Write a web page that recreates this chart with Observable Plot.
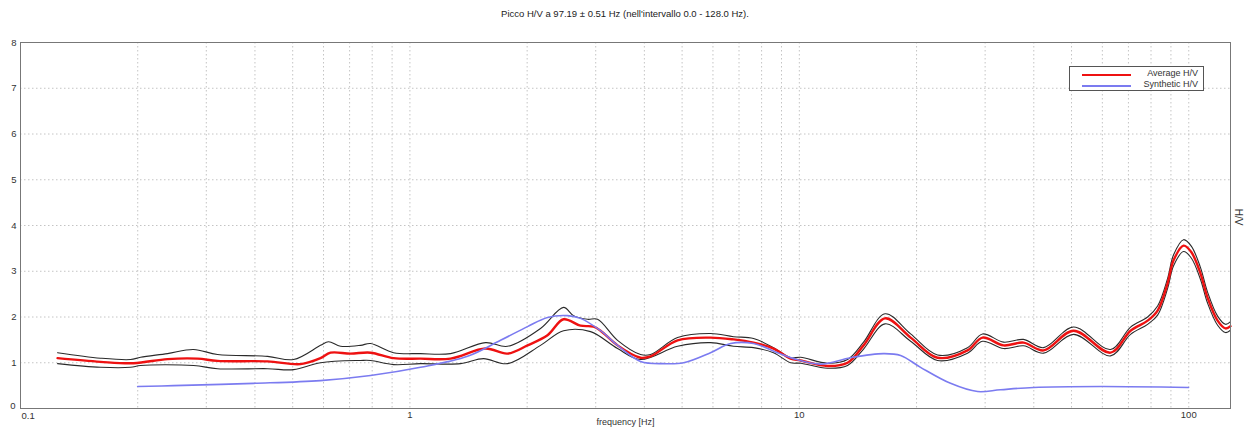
<!DOCTYPE html>
<html>
<head>
<meta charset="utf-8">
<script src="https://cdn.jsdelivr.net/npm/d3@7"></script>
<script src="https://cdn.jsdelivr.net/npm/@observablehq/plot@0.6"></script>
<style>
  html, body { margin: 0; padding: 0; background: #fff; }
  #wrap { position: relative; width: 1250px; height: 433px; font-family: "Liberation Sans", Arial, sans-serif; }
  #title { height: 30px; line-height: 28px; text-align: center; font-size: 9.5px; color: #222; }
  #legend { position: absolute; left: 1069px; top: 66px; width: 133px; height: 23px; border: 1px solid #555; background: #fff; font-size: 9px; color: #333; }
  .row { position: absolute; left: 0; right: 0; height: 11px; }
  .sw { position: absolute; left: 12px; width: 49px; }
  .lab { position: absolute; right: 5px; top: -2px; }
</style>
</head>
<body>
<div id="wrap">
  <div id="title"></div>
  <div id="chart"></div>
  <div id="legend"></div>
</div>
<script>
const titleText = "Picco H/V a 97.19 ± 0.51 Hz (nell'intervallo 0.0 - 128.0 Hz).";
const xLabel = "frequency [Hz]";
const yLabel = "H/V";
const seriesNames = ["Average H/V", "Synthetic H/V"];

const xTickValues = [0.1, 1, 10, 100];
const xTickLabels = ["0.1", "1", "10", "100"];
const yTickValues = [0, 1, 2, 3, 4, 5, 6, 7, 8];

// Average H/V (red)
const avgFreq = [0.1245,0.1605,0.1951,0.2385,0.2849,0.3206,0.4309,0.5237,0.5893,0.6253,0.7040,0.7922,0.9077,1.0647,1.2715,1.5636,1.7810,2.0045,2.2561,2.4806,2.7428,2.9620,3.0873,3.4135,3.9101,4.1486,4.8684,5.9156,6.7776,7.6283,8.5836,9.4933,10.07,11.81,13.30,14.62,16.6,19.31,22.64,27.03,29.54,33.45,37.65,42.38,50.60,62.99,70.89,78.41,83.18,88.22,91.42,96.97,101.5,107.2,111.7,118.6,124.3,128.0];
const avgHV   = [1.10,1.02,0.99,1.08,1.09,1.04,1.03,0.97,1.10,1.22,1.20,1.22,1.10,1.09,1.09,1.31,1.20,1.38,1.60,1.95,1.81,1.79,1.70,1.38,1.11,1.14,1.49,1.55,1.51,1.44,1.31,1.09,1.05,0.93,1.00,1.38,1.97,1.55,1.11,1.27,1.55,1.38,1.44,1.27,1.70,1.22,1.70,1.92,2.14,2.73,3.24,3.56,3.42,2.95,2.43,1.92,1.75,1.80];

// Upper bound (black)
const upFreq = [0.1245,0.1605,0.1916,0.2034,0.2385,0.2782,0.3206,0.4309,0.5025,0.5893,0.6180,0.6635,0.7467,0.7922,0.9077,1.0647,1.2715,1.5636,1.7810,2.1646,2.4806,2.6313,2.8588,3.0330,3.4135,3.9101,4.1486,4.8684,5.9156,6.7776,7.6283,8.5836,9.4933,10.07,11.81,13.30,14.62,16.6,19.31,22.64,27.03,29.54,33.45,37.65,42.38,50.60,62.99,70.89,78.41,83.18,88.22,91.42,96.97,101.5,107.2,111.7,118.6,124.3,128.0];
const upHV   = [1.22,1.10,1.07,1.12,1.20,1.29,1.18,1.14,1.07,1.38,1.46,1.36,1.38,1.42,1.22,1.20,1.20,1.44,1.36,1.75,2.21,2.03,1.95,1.95,1.49,1.18,1.18,1.55,1.64,1.57,1.53,1.33,1.11,1.12,0.99,1.07,1.45,2.07,1.63,1.17,1.33,1.63,1.45,1.51,1.33,1.78,1.29,1.78,2.00,2.24,2.84,3.36,3.69,3.55,3.08,2.55,2.02,1.84,1.90];

// Lower bound (black)
const loFreq = [0.1245,0.1605,0.1916,0.2034,0.2782,0.3206,0.4309,0.5025,0.5893,0.7467,0.7922,0.9077,1.0647,1.3489,1.5453,1.7810,2.1646,2.4806,2.9100,3.4135,3.9101,4.8684,5.9156,6.7776,7.6283,8.5836,9.4933,10.07,11.81,13.30,14.62,16.6,19.31,22.64,27.03,29.54,33.45,37.65,42.38,50.60,62.99,70.89,78.41,83.18,88.22,91.42,96.97,101.5,107.2,111.7,118.6,124.3,128.0];
const loHV   = [0.98,0.90,0.90,0.94,0.94,0.87,0.87,0.85,1.00,1.05,1.05,0.96,0.98,0.98,1.09,0.98,1.38,1.70,1.68,1.31,1.07,1.36,1.44,1.36,1.33,1.22,1.00,0.99,0.88,0.94,1.30,1.85,1.47,1.05,1.21,1.47,1.31,1.37,1.21,1.62,1.15,1.62,1.84,2.04,2.62,3.12,3.43,3.29,2.82,2.31,1.82,1.66,1.71];

// Synthetic H/V (blue)
const synFreq = [0.1999,0.2471,0.3966,0.5893,0.7922,1.0647,1.4060,1.7089,2.0045,2.2561,2.5396,2.7428,3.0873,3.4135,3.9101,4.4808,5.0441,5.9156,6.6586,7.6283,8.7894,9.6632,11.33,13.54,16.45,18.20,20.48,24.45,28.68,32.86,39.94,59.37,99.88];
const synHV   = [0.48,0.50,0.55,0.61,0.72,0.90,1.14,1.49,1.79,1.99,2.03,1.97,1.70,1.38,1.03,0.98,1.00,1.22,1.42,1.42,1.22,1.09,0.97,1.11,1.20,1.16,0.90,0.55,0.37,0.41,0.46,0.48,0.46];

const colors = { avg: "#ee1111", bound: "#2a2a2a", syn: "#7b7bf0" };

const toRows = (fs, vs) => fs.map((f, i) => ({ f, v: vs[i] }));
const avg = toRows(avgFreq, avgHV);
const up = toRows(upFreq, upHV);
const lo = toRows(loFreq, loHV);
const syn = toRows(synFreq, synHV);

const xGrid = [0.1, 1, 10, 100].flatMap(d => d3.range(1, 10).map(k => k * d)).filter(v => v > 0.1 && v < 128);
const yGrid = yTickValues.filter(v => v > 0 && v < 8);
const fmtX = d => xTickLabels[xTickValues.indexOf(d)] ?? String(d);

document.getElementById("title").textContent = titleText;

const chart = Plot.plot({
  width: 1250,
  height: 403,
  marginTop: 12,
  marginBottom: 25,
  marginLeft: 20,
  marginRight: 20,
  style: { fontFamily: "'Liberation Sans', Arial, sans-serif", fontSize: "9.5px", color: "#333", background: "#fff" },
  x: { type: "log", domain: [0.1, 128] },
  y: { domain: [0, 8] },
  marks: [
    Plot.ruleX(xGrid, { stroke: "#c4c4c4", strokeDasharray: "1.5,2.5", strokeWidth: 1 }),
    Plot.ruleY(yGrid, { stroke: "#c4c4c4", strokeDasharray: "1.5,2.5", strokeWidth: 1 }),
    Plot.axisX({ ticks: xTickValues.slice(1), tickSize: 0, tickPadding: 3, tickFormat: fmtX, label: null, fill: "#333" }),
    Plot.axisX({ ticks: xTickValues.slice(0, 1), tickSize: 0, tickPadding: 4, tickFormat: fmtX, textAnchor: "start", dx: 1, label: null, fill: "#333" }),
    Plot.axisY({ ticks: yTickValues.slice(1), tickSize: 0, tickPadding: 4, label: null, fill: "#333" }),
    Plot.axisY({ ticks: yTickValues.slice(0, 1), tickSize: 0, tickPadding: 5, dy: -3, label: null, fill: "#333" }),
    Plot.text([xLabel], { frameAnchor: "bottom", dy: 16, fill: "#333", fontSize: 9 }),
    Plot.text([yLabel], { frameAnchor: "right", dx: 8, rotate: 90, fill: "#333", fontSize: 10 }),
    Plot.line(up, { x: "f", y: "v", stroke: colors.bound, strokeWidth: 1.1, curve: "catmull-rom" }),
    Plot.line(lo, { x: "f", y: "v", stroke: colors.bound, strokeWidth: 1.1, curve: "catmull-rom" }),
    Plot.line(avg, { x: "f", y: "v", stroke: colors.avg, strokeWidth: 2.4, curve: "catmull-rom" }),
    Plot.line(syn, { x: "f", y: "v", stroke: colors.syn, strokeWidth: 1.6, curve: "catmull-rom" }),
    Plot.frame({ stroke: "#777", strokeWidth: 1 })
  ]
});
document.getElementById("chart").appendChild(chart);

const legend = document.getElementById("legend");
[[seriesNames[0], colors.avg, 2.5, 3], [seriesNames[1], colors.syn, 2, 14]].forEach(([name, c, w, top]) => {
  const row = document.createElement("div");
  row.className = "row";
  row.style.top = top + "px";
  const sw = document.createElement("div");
  sw.className = "sw";
  sw.style.top = (5 - w / 2) + "px";
  sw.style.height = w + "px";
  sw.style.background = c;
  const lab = document.createElement("div");
  lab.className = "lab";
  lab.textContent = name;
  row.appendChild(sw);
  row.appendChild(lab);
  legend.appendChild(row);
});
</script>
</body>
</html>
